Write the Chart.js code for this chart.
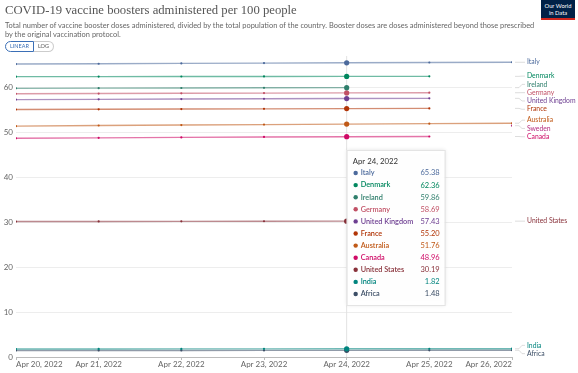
<!DOCTYPE html>
<html>
<head>
<meta charset="utf-8">
<script src="https://cdn.jsdelivr.net/npm/chart.js@4.4.1/dist/chart.umd.min.js"></script>
<style>
  body { margin: 0; background: #fff; font-family: Lato, sans-serif; }
  #wrap { position: relative; width: 578px; height: 373px; overflow: hidden; }
  #chart { position: absolute; left: 0; top: 0; }
  .title { position: absolute; left: 5px; top: 3px; font-family: "Liberation Serif", serif; font-size: 12.7px; color: #555; white-space: nowrap; }
  .subtitle { position: absolute; left: 5px; top: 21px; width: 530px; font-size: 7.45px; line-height: 9px; color: #666; }
  .btns { position: absolute; left: 5px; top: 41px; display: flex; font-size: 5.5px; }
  .btn { height: 9px; line-height: 9px; padding: 0 4px; border: 1px solid #ccc; color: #555; }
  .btn.on { border-color: #3b6fb6; color: #3b6fb6; border-radius: 6px 0 0 6px; }
  .btn.off { border-left: none; border-radius: 0 6px 6px 0; }
  .logo { position: absolute; left: 541px; top: 0; width: 34px; height: 20px; background: #002147; border-bottom: 2px solid #ce261e; color: #fff; font-size: 5.8px; line-height: 6.5px; text-align: center; padding-top: 3px; box-sizing: border-box; }
</style>
</head>
<body>
<div id="wrap">
  <canvas id="chart" width="578" height="373"></canvas>
  <div class="title">COVID-19 vaccine boosters administered per 100 people</div>
  <div class="subtitle">Total number of vaccine booster doses administered, divided by the total population of the country. Booster doses are doses administered beyond those prescribed by the original vaccination protocol.</div>
  <div class="btns"><div class="btn on">LINEAR</div><div class="btn off">LOG</div></div>
  <div class="logo">Our World<br>in Data</div>
</div>
<script>
const dateLabels = ['Apr 20, 2022', 'Apr 21, 2022', 'Apr 22, 2022', 'Apr 23, 2022', 'Apr 24, 2022', 'Apr 25, 2022', 'Apr 26, 2022']
const yTicks = [0, 10, 20, 30, 40, 50, 60]
const hoverIndex = 4

const countries = ['Italy', 'Denmark', 'Ireland', 'Germany', 'United Kingdom', 'France', 'Australia', 'Sweden', 'Canada', 'United States', 'India', 'Africa']
const colors = ['#4C6A9C', '#00875E', '#2F7F6C', '#C15065', '#6D3E91', '#B13507', '#C05917', '#B52F80', '#CF0A66', '#883039', '#00847E', '#3C4E66']

const italy = [65.10, 65.17, 65.24, 65.31, 65.38, 65.44, 65.50]
const denmark = [62.30, 62.31, 62.33, 62.34, 62.36, 62.37, null]
const ireland = [59.70, 59.74, 59.78, 59.82, 59.86, null, null]
const germany = [58.50, 58.55, 58.60, 58.65, 58.69, 58.73, null]
const unitedKingdom = [57.20, 57.26, 57.32, 57.38, 57.43, 57.48, null]
const france = [55.00, 55.05, 55.10, 55.15, 55.20, 55.25, null]
const australia = [51.30, 51.45, 51.55, 51.65, 51.76, 51.85, 51.95]
const sweden = [null, null, null, null, null, null, 51.40]
const canada = [48.60, 48.70, 48.80, 48.90, 48.96, 49.00, null]
const unitedStates = [30.10, 30.12, 30.15, 30.17, 30.19, null, null]
const india = [1.78, 1.79, 1.80, 1.81, 1.82, 1.83, 1.84]
const africa = [1.45, 1.46, 1.46, 1.47, 1.48, 1.49, 1.50]

const seriesValues = [italy, denmark, ireland, germany, unitedKingdom, france, australia, sweden, canada, unitedStates, india, africa]

let datasets = []
countries.forEach((name, i) => {
    datasets.push({
        label: name,
        data: seriesValues[i].map((v, j) => ({x: j, y: v})),
        borderColor: colors[i] + '90',
        backgroundColor: colors[i],
        borderWidth: 1.4,
        pointRadius: ctx => ctx.dataIndex === hoverIndex ? 2.6 : 1.1,
        pointBorderWidth: 0,
        spanGaps: false
    })
})

// hover line behind the series
const hoverLine = {
    id: 'hoverLine',
    beforeDatasetsDraw(chart) {
        const c = chart.ctx
        const x = chart.scales.x.getPixelForValue(hoverIndex)
        c.save()
        c.strokeStyle = '#e2e2e2'
        c.lineWidth = 1
        c.beginPath()
        c.moveTo(x, chart.chartArea.top - 4)
        c.lineTo(x, chart.chartArea.bottom)
        c.stroke()
        c.restore()
    }
}

// labels at the right end of each line
const endLabels = {
    id: 'endLabels',
    afterDatasetsDraw(chart) {
        const c = chart.ctx
        const yScale = chart.scales.y
        let items = []
        chart.data.datasets.forEach((ds, i) => {
            let last = null
            ds.data.forEach(p => { if (p.y !== null) last = p.y })
            const y = yScale.getPixelForValue(last)
            items.push({label: ds.label, color: colors[i], y0: y, y: y})
        })
        items.sort((a, b) => a.y0 - b.y0)
        const gap = 8.3
        for (let k = 0; k < 200; k++) {
            for (let i = 1; i < items.length; i++) {
                const d = items[i].y - items[i - 1].y
                if (d < gap) {
                    const push = (gap - d) / 2
                    items[i].y += push
                    items[i - 1].y -= push
                }
            }
        }
        const x0 = chart.chartArea.right + 3
        c.save()
        c.font = '6.8px Lato'
        c.textBaseline = 'middle'
        items.forEach(it => {
            c.strokeStyle = '#d4d4d4'
            c.lineWidth = 0.8
            c.beginPath()
            c.moveTo(x0, it.y0)
            c.lineTo(x0 + 4, it.y0)
            c.lineTo(x0 + 7, it.y)
            c.lineTo(x0 + 10, it.y)
            c.stroke()
            c.fillStyle = it.color
            c.fillText(it.label, x0 + 12, it.y)
        })
        c.restore()
    }
}

// tooltip box for the hovered date
const tooltipBox = {
    id: 'tooltipBox',
    afterDraw(chart) {
        const c = chart.ctx
        const left = chart.scales.x.getPixelForValue(hoverIndex)
        const top = 150
        const w = 98
        const h = 155
        c.save()
        c.shadowColor = 'rgba(0,0,0,0.12)'
        c.shadowBlur = 4
        c.fillStyle = 'rgba(255,255,255,0.97)'
        c.fillRect(left, top, w, h)
        c.shadowBlur = 0
        c.strokeStyle = '#e4e4e4'
        c.lineWidth = 1
        c.strokeRect(left + 0.5, top + 0.5, w, h)
        c.textBaseline = 'middle'
        c.fillStyle = '#333'
        c.font = '7.8px Lato'
        c.fillText(dateLabels[hoverIndex], left + 6, top + 11)
        let rows = []
        chart.data.datasets.forEach((ds, i) => {
            const v = ds.data[hoverIndex].y
            if (v !== null) rows.push({label: ds.label, value: v, color: colors[i]})
        })
        rows.sort((a, b) => b.value - a.value)
        rows.forEach((r, k) => {
            const y = top + 23 + k * 12.1
            c.fillStyle = r.color
            c.beginPath()
            c.arc(left + 9, y, 2.2, 0, Math.PI * 2)
            c.fill()
            c.font = '600 7.3px Lato'
            c.textAlign = 'left'
            c.fillText(r.label, left + 14, y)
            c.font = '7.5px Lato'
            c.textAlign = 'right'
            c.fillText(r.value.toFixed(2), left + 93, y)
        })
        c.restore()
    }
}

const ctx = document.getElementById('chart').getContext('2d')
new Chart(ctx, {
    type: 'line',
    data: { datasets: datasets },
    plugins: [hoverLine, endLabels, tooltipBox],
    options: {
        responsive: false,
        animation: false,
        events: [],
        layout: { padding: { top: 60, right: 66, left: 0, bottom: 0 } },
        plugins: {
            legend: { display: false },
            tooltip: { enabled: false }
        },
        scales: {
            x: {
                type: 'linear',
                min: 0,
                max: dateLabels.length - 1,
                afterFit(scale) { scale.height = 16 },
                grid: { display: true, drawOnChartArea: false, drawTicks: true, tickLength: 3, color: '#bbb' },
                border: { display: true, color: '#bbb' },
                ticks: {
                    stepSize: 1,
                    align: 'inner',
                    maxRotation: 0,
                    padding: 0,
                    color: '#666',
                    font: { family: 'Lato', size: 8 },
                    callback: v => dateLabels[v]
                }
            },
            y: {
                min: 0,
                max: 66,
                afterFit(scale) { scale.width = 16 },
                afterBuildTicks(scale) { scale.ticks = yTicks.map(v => ({value: v})) },
                grid: { color: '#ededed', drawTicks: false },
                border: { display: false },
                ticks: {
                    padding: 3,
                    color: '#666',
                    font: { family: 'Lato', size: 8 }
                }
            }
        }
    }
})
</script>
</body>
</html>
